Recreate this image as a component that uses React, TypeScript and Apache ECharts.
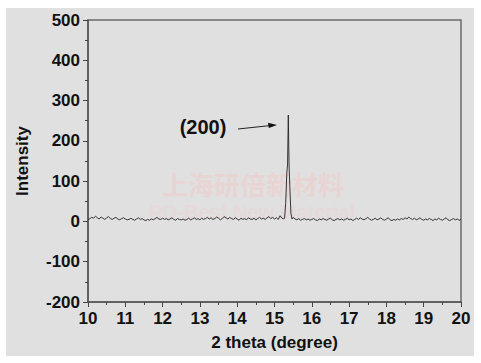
import React, { useEffect, useRef } from "react";
import * as echarts from "echarts";

// 2θ grid of the baseline scan: 10.00 → 20.00, step 0.05
const scanStart = 10;
const scanStep = 0.05;
const baselineIntensity = [
  4, 7, 10, 8, 13, 9, 6, 11, 8, 5, 9, 12, 7, 5, 8, 10, 6, 4, 7, 9,
  6, 4, 5, 8, 5, 3, 6, 9, 5, 7, 4, 2, 5, 3, 6, 4, 7, 10, 6, 5,
  8, 5, 7, 4, 6, 9, 5, 3, 7, 5, 4, 6, 3, 5, 8, 4, 6, 9, 5, 7,
  4, 8, 5, 7, 10, 6, 9, 5, 7, 11, 8, 4, 7, 12, 9, 6, 10, 7, 5, 9,
  6, 3, 8, 5, 7, 4, 9, 6, 5, 8, 4, 7, 10, 6, 8, 5, 9, 12, 7, 10,
  6, 9, 5, 14, 8, 6, 40, 200, 140, 20, 10, 6, 4, 7, 3, 5, 7, 4, 6, 3,
  5, 7, 4, 2, 6, 4, 7, 5, 3, 6, 8, 4, 2, 5, 7, 4, 6, 3, 5, 8,
  4, 6, 2, 5, 8, 5, 9, 6, 4, 7, 10, 6, 3, 5, 8, 4, 6, 9, 5, 3,
  6, 9, 4, 2, 5, 3, 6, 4, 7, 5, 9, 6, 11, 7, 5, 8, 4, 6, 9, 5,
  3, 6, 4, 7, 5, 2, 6, 4, 8, 5, 3, 6, 9, 4, 2, 5, 7, 4, 6, 3,
  5,
];
// (200) reflection, finer sampling
const peakTheta = [15.27, 15.3, 15.33, 15.35, 15.37, 15.39, 15.41, 15.44, 15.47];
const peakIntensity = [8, 45, 120, 140, 264, 140, 90, 20, 6];

const xTicks = { min: 10, max: 20, interval: 1 };
const yTicks = { min: -200, max: 500, interval: 100 };
const annotationLabel = "(200)";
const xName = "2 theta (degree)";
const yName = "Intensity";

function buildData(): [number, number][] {
  const pts: [number, number][] = [];
  baselineIntensity.forEach((v, i) => {
    const x = +(scanStart + i * scanStep).toFixed(2);
    if (x < 15.26 || x > 15.48) pts.push([x, v]);
  });
  peakTheta.forEach((x, i) => pts.push([x, peakIntensity[i]]));
  pts.sort((a, b) => a[0] - b[0]);
  return pts;
}

export default function App() {
  const ref = useRef<HTMLDivElement>(null);
  useEffect(() => {
    if (!ref.current) return;
    const chart = echarts.init(ref.current, null, { renderer: "svg" });
    const font = "'Liberation Sans', Arial, sans-serif";
    chart.setOption({
      animation: false,
      backgroundColor: "#e0e0e0",
      grid: {
        left: 76,
        top: 12,
        right: 13,
        bottom: 54,
        show: true,
        borderColor: "#6a6a6a",
        borderWidth: 1.5,
        backgroundColor: "transparent",
      },
      xAxis: {
        type: "value",
        min: xTicks.min,
        max: xTicks.max,
        interval: xTicks.interval,
        name: xName,
        nameLocation: "middle",
        nameGap: 32,
        nameTextStyle: { fontFamily: font, fontWeight: "bold", fontSize: 17, color: "#111" },
        axisLine: { show: true, onZero: false, lineStyle: { color: "#555", width: 1.5 } },
        axisTick: { show: true, inside: false, length: 5, lineStyle: { color: "#444", width: 1 } },
        minorTick: { show: true, splitNumber: 2, length: 3, lineStyle: { color: "#444", width: 1 } },
        splitLine: { show: false },
        axisLabel: { fontFamily: font, fontWeight: "bold", fontSize: 17, color: "#111", margin: 8 },
      },
      yAxis: {
        type: "value",
        min: yTicks.min,
        max: yTicks.max,
        interval: yTicks.interval,
        name: yName,
        nameLocation: "middle",
        nameGap: 57,
        nameTextStyle: { fontFamily: font, fontWeight: "bold", fontSize: 17, color: "#111" },
        axisLine: { show: true, onZero: false, lineStyle: { color: "#555", width: 1.5 } },
        axisTick: { show: true, inside: false, length: 5, lineStyle: { color: "#444", width: 1 } },
        minorTick: { show: true, splitNumber: 2, length: 3, lineStyle: { color: "#444", width: 1 } },
        splitLine: { show: false },
        axisLabel: { fontFamily: font, fontWeight: "bold", fontSize: 17, color: "#111", margin: 8 },
      },
      graphic: [
        {
          type: "text",
          z: -1,
          x: 247,
          y: 175,
          style: {
            text: "上海研倍新材料",
            font: "bold 26px 'Noto Sans CJK SC', sans-serif",
            fill: "#e9d4d4",
            align: "center",
            verticalAlign: "middle",
          },
        },
        {
          type: "text",
          z: -1,
          x: 246,
          y: 204,
          style: {
            text: "RD-Best New Material",
            font: "bold 20px 'Liberation Sans', Arial, sans-serif",
            fill: "#e5d9d9",
            align: "center",
            verticalAlign: "middle",
          },
        },
        {
          type: "text",
          x: 197,
          y: 119,
          style: {
            text: annotationLabel,
            font: "bold 20px 'Liberation Sans', Arial, sans-serif",
            fill: "#111",
            align: "center",
            verticalAlign: "middle",
          },
        },
        {
          type: "line",
          shape: { x1: 232, y1: 121, x2: 264, y2: 117.6 },
          style: { stroke: "#222", lineWidth: 1 },
        },
        {
          type: "polygon",
          shape: { points: [[271, 117], [262, 114.8], [262.8, 120]] },
          style: { fill: "#111" },
        },
      ],
      series: [
        {
          type: "line",
          data: buildData(),
          showSymbol: false,
          symbol: "none",
          lineStyle: { color: "#222", width: 0.9 },
          z: 3,
        },
      ],
    });
    return () => chart.dispose();
  }, []);
  return (
    <div style={{ position: "absolute", left: 0, top: 0, width: 481, height: 363, background: "#fff" }}>
      <div ref={ref} style={{ position: "absolute", left: 6, top: 8, width: 468, height: 348 }} />
    </div>
  );
}
